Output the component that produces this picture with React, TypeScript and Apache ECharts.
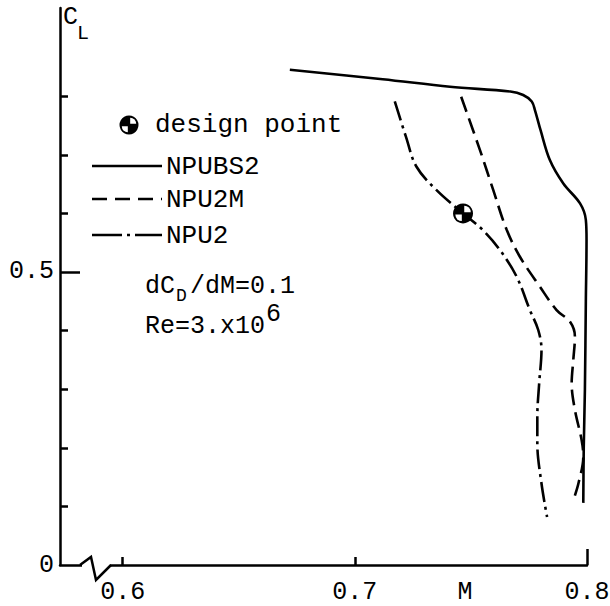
import React, { useEffect, useRef } from "react";
import * as echarts from "echarts";

// Mach number (x) and lift coefficient (y) for each drag-divergence boundary
const npubs2M = [0.672, 0.712, 0.741, 0.767, 0.7725, 0.7762, 0.7776, 0.780, 0.784, 0.7898, 0.797, 0.7995, 0.7998, 0.7995, 0.7991, 0.7986, 0.7984];
const npubs2CL = [0.845, 0.829, 0.816, 0.808, 0.802, 0.791, 0.776, 0.742, 0.691, 0.651, 0.617, 0.589, 0.555, 0.45, 0.3, 0.2, 0.106];

const npu2mM = [0.7458, 0.7539, 0.7596, 0.7654, 0.7711, 0.7797, 0.7869, 0.7927, 0.7948, 0.7941, 0.7934, 0.7948, 0.7977, 0.7984, 0.7963, 0.7944];
const npu2mCL = [0.799, 0.708, 0.640, 0.572, 0.526, 0.475, 0.435, 0.415, 0.390, 0.350, 0.310, 0.2645, 0.213, 0.185, 0.139, 0.114];

const npu2M = [0.7172, 0.722, 0.7265, 0.7351, 0.7466, 0.755, 0.7625, 0.7697, 0.7754, 0.779, 0.7804, 0.7794, 0.7786, 0.7786, 0.7804, 0.7828];
const npu2CL = [0.791, 0.731, 0.680, 0.640, 0.600, 0.572, 0.5375, 0.492, 0.435, 0.401, 0.367, 0.310, 0.253, 0.208, 0.139, 0.082];

const designPoint = [0.7466, 0.600];

const xTickValues = [0.6, 0.7];
const xLabelValues = [0.6, 0.7, 0.8];
const yTickValues = [0.1, 0.2, 0.3, 0.4, 0.6, 0.7, 0.8];
const yLabelValues = [0, 0.5];

const X_MIN = 0.573;
const X_MAX = 0.8;
const Y_MIN = 0;
const Y_MAX = 0.9505;

const FONT = "Liberation Mono";
const INK = "#000";

const zip = (a: number[], b: number[]) => a.map((v, i) => [v, b[i]]);

export default function App() {
  const ref = useRef<HTMLDivElement>(null);
  useEffect(() => {
    if (!ref.current) return;
    const chart = echarts.init(ref.current, undefined, { renderer: "svg" });
    const legendLine = (y: number, dash: number[] | null) => ({
      type: "line",
      z: 100,
      shape: { x1: 92, y1: y, x2: 162, y2: y },
      style: { stroke: INK, lineWidth: 2.5, lineDash: dash || undefined },
    });
    const legendText = (x: number, y: number, text: string, size = 26) => ({
      type: "text",
      z: 100,
      x,
      y,
      style: { text, fill: INK, font: `${size}px "${FONT}"`, textAlign: "left", verticalAlign: "middle" },
    });
    const option: any = {
      animation: false,
      backgroundColor: "#fff",
      grid: { left: 60, right: 23, top: 8, bottom: 41, containLabel: false, outerBoundsMode: "none" },
      xAxis: [
        {
          type: "value",
          min: X_MIN,
          max: X_MAX,
          axisLine: { show: true, onZero: false, lineStyle: { color: INK, width: 2.5 } },
          axisTick: { show: true, inside: true, length: 8, customValues: xTickValues, lineStyle: { color: INK, width: 2.5 } },
          axisLabel: {
            show: true,
            customValues: xLabelValues,
            formatter: (v: number) => v.toFixed(1),
            color: INK,
            fontFamily: FONT,
            fontSize: 25,
            margin: 15,
          },
          splitLine: { show: false },
        },
        {
          type: "value",
          position: "bottom",
          min: X_MIN,
          max: X_MAX,
          axisLine: { show: false },
          axisTick: { show: true, inside: true, length: 16, customValues: [0.8], lineStyle: { color: INK, width: 2.5 } },
          axisLabel: { show: false },
          splitLine: { show: false },
        },
      ],
      yAxis: [
        {
          type: "value",
          min: Y_MIN,
          max: Y_MAX,
          axisLine: { show: true, onZero: false, lineStyle: { color: INK, width: 2.5 } },
          axisTick: { show: true, inside: true, length: 8, customValues: yTickValues, lineStyle: { color: INK, width: 2.5 } },
          axisLabel: {
            show: true,
            customValues: yLabelValues,
            formatter: (v: number) => (v === 0 ? "0" : v.toFixed(1)),
            color: INK,
            fontFamily: FONT,
            fontSize: 25,
            margin: 6,
          },
          splitLine: { show: false },
        },
        {
          type: "value",
          position: "left",
          min: Y_MIN,
          max: Y_MAX,
          axisLine: { show: false },
          axisTick: { show: true, inside: true, length: 20, customValues: [0.5], lineStyle: { color: INK, width: 2.5 } },
          axisLabel: { show: false },
          splitLine: { show: false },
        },
      ],
      series: [
        {
          name: "NPUBS2",
          type: "line",
          data: zip(npubs2M, npubs2CL),
          smooth: 0.35,
          symbol: "none",
          lineStyle: { color: INK, width: 2.6, type: "solid" },
        },
        {
          name: "NPU2M",
          type: "line",
          data: zip(npu2mM, npu2mCL),
          smooth: 0.35,
          symbol: "none",
          lineStyle: { color: INK, width: 2.6, type: [16, 7] },
        },
        {
          name: "NPU2",
          type: "line",
          data: zip(npu2M, npu2CL),
          smooth: 0.35,
          symbol: "none",
          lineStyle: { color: INK, width: 2.6, type: [20, 5, 3, 5] },
        },
        {
          name: "design point",
          type: "custom",
          data: [designPoint],
          z: 5,
          renderItem: (params: any, api: any) => {
            const p = api.coord([api.value(0), api.value(1)]);
            const cx = p[0];
            const cy = p[1];
            return {
              type: "group",
              children: [
                { type: "circle", shape: { cx, cy, r: 10 }, style: { fill: INK } },
                { type: "sector", shape: { cx: cx + 1.2, cy: cy - 1.2, r0: 0, r: 6.5, startAngle: 1.5 * Math.PI, endAngle: 2 * Math.PI }, style: { fill: "#fff" } },
                { type: "sector", shape: { cx: cx - 1.2, cy: cy + 1.2, r0: 0, r: 6.5, startAngle: 0.5 * Math.PI, endAngle: Math.PI }, style: { fill: "#fff" } },
              ],
            };
          },
        },
      ],
      graphic: [
        // axis break on the Mach axis
        { type: "rect", z: 100, shape: { x: 82, y: 561, width: 28, height: 8 }, style: { fill: "#fff" } },
        { type: "polyline", z: 101, shape: { points: [[80, 565], [91, 557], [96, 580], [111, 565]] }, style: { stroke: INK, lineWidth: 2.5, fill: null } },
        // axis titles
        { type: "text", z: 100, x: 63, y: 17, style: { text: "C", fill: INK, font: `25px "${FONT}"`, textAlign: "left", verticalAlign: "middle" } },
        { type: "text", z: 100, x: 77, y: 33, style: { text: "L", fill: INK, font: `20px "${FONT}"`, textAlign: "left", verticalAlign: "middle" } },
        { type: "text", z: 100, x: 465, y: 592, style: { text: "M", fill: INK, font: `25px "${FONT}"`, textAlign: "center", verticalAlign: "middle" } },
        // legend
        { type: "circle", z: 100, shape: { cx: 129, cy: 125, r: 9.5 }, style: { fill: INK } },
        { type: "sector", z: 101, shape: { cx: 130.2, cy: 123.8, r0: 0, r: 6, startAngle: 1.5 * Math.PI, endAngle: 2 * Math.PI }, style: { fill: "#fff" } },
        { type: "sector", z: 101, shape: { cx: 127.8, cy: 126.2, r0: 0, r: 6, startAngle: 0.5 * Math.PI, endAngle: Math.PI }, style: { fill: "#fff" } },
        legendText(155, 125, "design point"),
        legendLine(166, null),
        legendText(166, 167, "NPUBS2"),
        legendLine(199, [15, 8]),
        legendText(166, 200, "NPU2M"),
        legendLine(235, [30, 5, 3, 5]),
        legendText(166, 236, "NPU2"),
        // annotation
        legendText(145, 286, "dC", 25),
        legendText(176, 296, "D", 18),
        legendText(190, 286, "/dM=0.1", 25),
        legendText(145, 326, "Re=3.x10", 25),
        legendText(266, 314, "6", 25),
      ],
    };
    chart.setOption(option);
    return () => chart.dispose();
  }, []);
  return <div ref={ref} style={{ position: "fixed", left: 0, top: 0, width: 610, height: 606 }} />;
}
